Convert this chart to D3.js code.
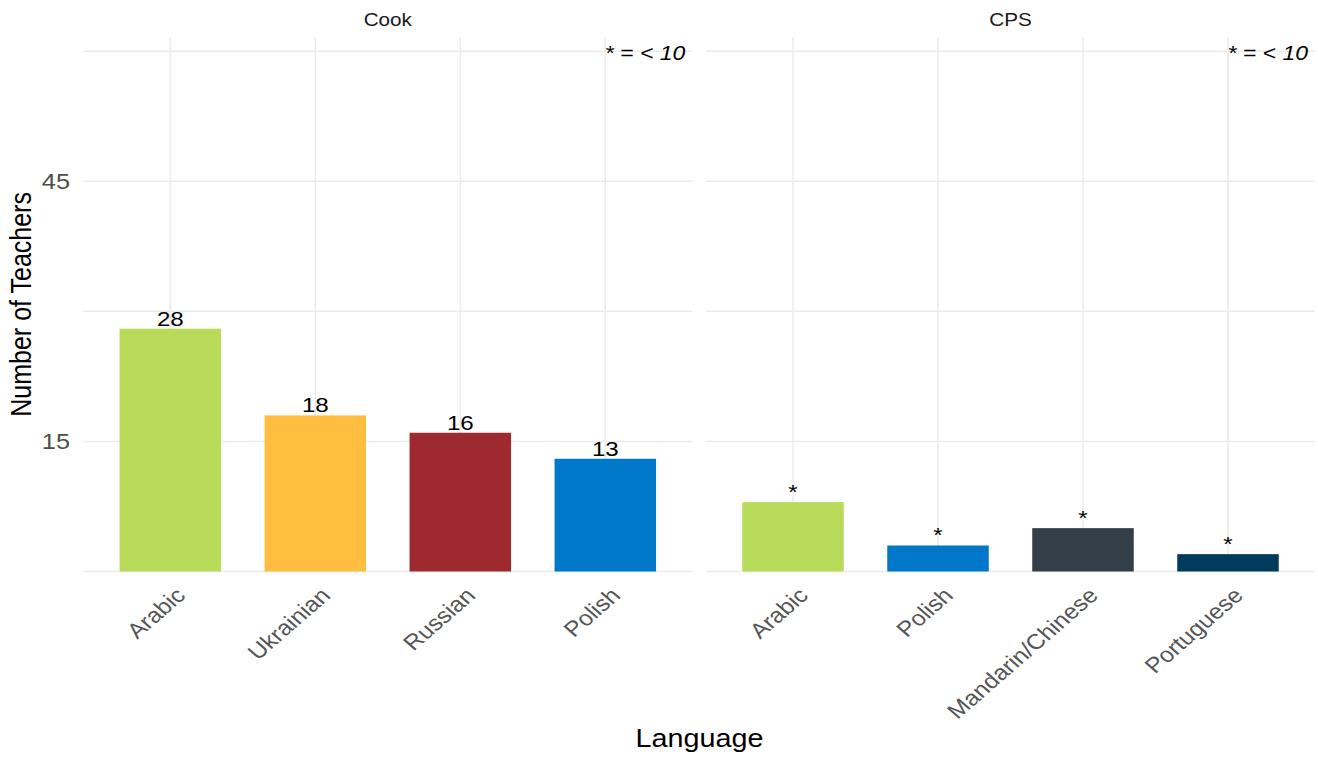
<!DOCTYPE html>
<html><head><meta charset="utf-8">
<script src="https://cdn.jsdelivr.net/npm/d3@7"></script>
<style>
body{margin:0;background:#fff;}
text{font-family:"Liberation Sans",Arial,sans-serif;}
</style></head>
<body><svg id="c" width="1318" height="759"></svg>
<script>
const panels = ["Cook", "CPS"];
const cookLanguages = ["Arabic", "Ukrainian", "Russian", "Polish"];
const cookValues = [28, 18, 16, 13];
const cookLabels = ["28", "18", "16", "13"];
const cookColors = ["#B8DC5A", "#FFBE3F", "#9E292E", "#0077C8"];
const cpsLanguages = ["Arabic", "Polish", "Mandarin/Chinese", "Portuguese"];
const cpsValues = [8, 3, 5, 2];
const cpsLabels = ["*", "*", "*", "*"];
const cpsColors = ["#B8DC5A", "#0077C8", "#333F48", "#003B5C"];
const yTicks = [15, 45];
const yGrid = [0, 15, 30, 45, 60];
const noteText = "* = < 10";

const SX = 1.15; // horizontal stretch of the reference rendering
const svg = d3.select("#c");
const y = d3.scaleLinear().domain([0, 61.6]).range([571.5, 37.3]);
const panelDefs = [
  {name: panels[0], x0: 83.3, x1: 692.3, cats: cookLanguages, vals: cookValues, labs: cookLabels, cols: cookColors},
  {name: panels[1], x0: 706, x1: 1315, cats: cpsLanguages, vals: cpsValues, labs: cpsLabels, cols: cpsColors}
];

panelDefs.forEach((p, pi) => {
  const x = d3.scalePoint().domain(p.cats).range([p.x0, p.x1]).padding(0.6);
  const bw = x.step() * 0.7;
  const g = svg.append("g");
  g.selectAll(".hg").data(yGrid).join("line")
    .attr("x1", p.x0).attr("x2", p.x1)
    .attr("y1", d => y(d)).attr("y2", d => y(d))
    .attr("stroke", "#EBEBEB").attr("stroke-width", 1.5);
  g.selectAll(".vg").data(p.cats).join("line")
    .attr("x1", d => x(d)).attr("x2", d => x(d))
    .attr("y1", y.range()[1]).attr("y2", y.range()[0])
    .attr("stroke", "#EBEBEB").attr("stroke-width", 1.5);
  g.selectAll(".bar").data(p.cats).join("rect")
    .attr("x", d => x(d) - bw / 2).attr("width", bw)
    .attr("y", (d, i) => y(p.vals[i]))
    .attr("height", (d, i) => y(0) - y(p.vals[i]))
    .attr("fill", (d, i) => p.cols[i]);
  g.selectAll(".vl").data(p.cats).join("text")
    .attr("transform", (d, i) => `translate(${x(d)},${y(p.vals[i]) - 3}) scale(${SX},1)`)
    .attr("text-anchor", "middle").attr("font-size", 21).attr("fill", "#000")
    .text((d, i) => p.labs[i]);
  g.append("text").attr("transform", `translate(${(p.x0 + p.x1) / 2},26) scale(${SX},1)`)
    .attr("text-anchor", "middle").attr("font-size", 18).attr("fill", "#1A1A1A").text(p.name);
  g.append("text").attr("transform", `translate(${p.x1 - 7},60) scale(${SX},1)`)
    .attr("text-anchor", "end").attr("font-size", 20).attr("font-style", "italic")
    .attr("fill", "#000").text(noteText);
  g.selectAll(".xl").data(p.cats).join("text")
    .attr("transform", d => `translate(${x(d) + 4},${586}) scale(${SX},1) rotate(-45)`)
    .attr("text-anchor", "end").attr("dy", "0.71em")
    .attr("font-size", 21.5).attr("fill", "#555555").text(d => d);
  if (pi === 0) {
    svg.selectAll(".yl").data(yTicks).join("text")
      .attr("transform", d => `translate(70,${y(d)}) scale(${SX},1)`).attr("dy", "0.36em")
      .attr("text-anchor", "end").attr("font-size", 22).attr("fill", "#4D4D4D").text(d => d);
  }
});

svg.append("text").attr("transform", `translate(699.5,747) scale(${SX},1)`).attr("text-anchor", "middle")
  .attr("font-size", 25).attr("fill", "#000").text("Language");
svg.append("text").attr("transform", `translate(31,${(37.3 + 571.5) / 2}) scale(${SX},1) rotate(-90)`)
  .attr("text-anchor", "middle").attr("font-size", 25).attr("fill", "#000").text("Number of Teachers");
</script></body></html>
